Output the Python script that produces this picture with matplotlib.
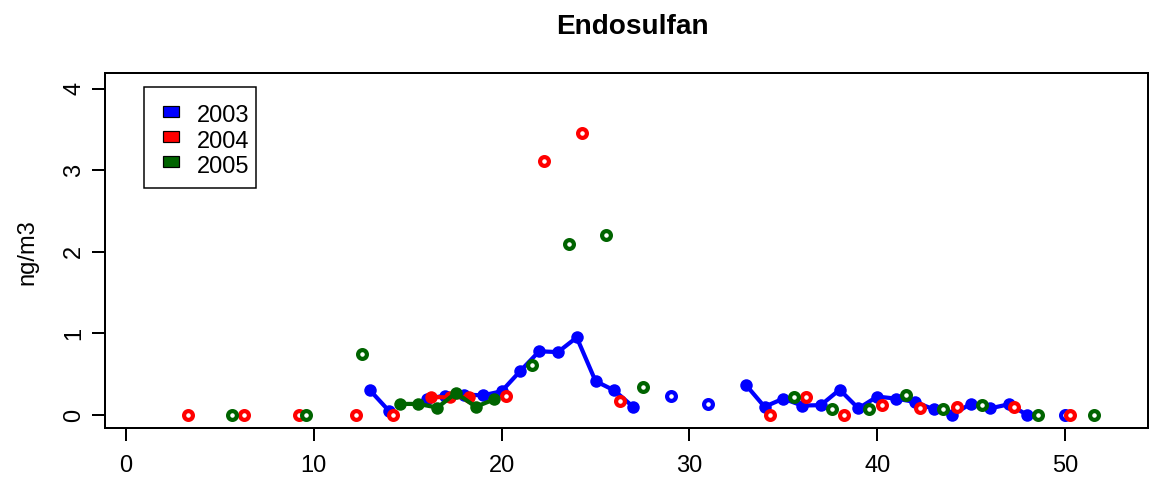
import matplotlib
matplotlib.use("Agg")
import matplotlib.pyplot as plt
from matplotlib.patches import Rectangle
import numpy as np

plt.rcParams['font.family'] = ['Liberation Sans', 'DejaVu Sans']

title = "Endosulfan"
ylabel = "ng/m3"
years = ["2003", "2004", "2005"]
colors = ["#0000FF", "#FF0000", "#006400"]

x2003 = [13, 14, 16, 17, 18, 19, 20, 21, 22, 23, 24, 25, 26, 27, 29, 31,
         33, 34, 35, 36, 37, 38, 39, 40, 41, 42, 43, 44, 45, 46, 47, 48, 50]
y2003 = [0.30, 0.05, 0.20, 0.235, 0.25, 0.24, 0.29, 0.54, 0.78, 0.77, 0.95, 0.415,
         0.30, 0.10, 0.235, 0.14, 0.37, 0.10, 0.20, 0.115, 0.12, 0.31, 0.08, 0.225,
         0.20, 0.16, 0.07, 0.0, 0.14, 0.08, 0.13, 0.0, 0.0]

x2004 = [3.30, 6.28, 9.23, 12.25, 14.23, 16.24, 17.25, 18.28, 20.23, 22.27, 24.30,
         26.30, 34.29, 36.20, 38.25, 40.27, 42.26, 44.23, 47.28, 50.27]
y2004 = [0.0, 0.0, 0.0, 0.0, 0.0, 0.22, 0.215, 0.22, 0.235, 3.11, 3.45, 0.175,
         0.0, 0.225, 0.0, 0.12, 0.085, 0.10, 0.10, 0.0]

x2005 = [5.63, 9.58, 12.57, 14.59, 15.57, 16.58, 17.57, 18.62, 19.60, 21.60, 23.60,
         25.54, 27.55, 35.57, 37.58, 39.58, 41.53, 43.50, 45.56, 48.54, 51.54]
y2005 = [0.0, 0.0, 0.75, 0.135, 0.135, 0.09, 0.27, 0.10, 0.19, 0.61, 2.09,
         2.20, 0.34, 0.225, 0.07, 0.07, 0.245, 0.07, 0.12, 0.0, 0.0]

xticks = [0, 10, 20, 30, 40, 50]
yticks = [0, 1, 2, 3, 4]

series = [(x2003, y2003), (x2004, y2004), (x2005, y2005)]

W, H = 1150, 482
fig = plt.figure(figsize=(W / 100, H / 100), dpi=100)
ax = fig.add_axes([105 / W, 1 - 428 / H, (1148 - 105) / W, (428 - 73) / H])

px = 72 / 100  # points per pixel


def runs(xs):
    groups = []
    cur = [0]
    for i in range(1, len(xs)):
        if xs[i] - xs[i - 1] < 1.5:
            cur.append(i)
        else:
            groups.append(cur)
            cur = [i]
    groups.append(cur)
    return groups


for (xs, ys), c in zip(series, colors):
    xs = np.array(xs)
    ys = np.array(ys)
    for g in runs(list(xs)):
        if len(g) > 1:
            ax.plot(xs[g], ys[g], color=c, lw=4.2 * px, marker='o',
                    ms=12.5 * px, mec=c, mfc=c, mew=0, solid_capstyle='round',
                    solid_joinstyle='round', zorder=3)
        else:
            ax.plot(xs[g], ys[g], linestyle='none', marker='o', ms=8.8 * px,
                    mfc='white', mec=c, mew=4.2 * px, zorder=3)

ax.set_xlim(-1.12, 54.42)
ax.set_ylim(-0.16, 4.19)
ax.set_xticks(xticks)
ax.set_yticks(yticks)
ax.set_xticklabels([str(v) for v in xticks])
ax.set_yticklabels([str(v) for v in yticks])
for s in ax.spines.values():
    s.set_linewidth(2 * px)
ax.tick_params(axis='both', length=13 * px, width=2 * px, labelsize=17,
               direction='out', color='black')
ax.tick_params(axis='x', pad=10)
ax.tick_params(axis='y', pad=5)
for lab in ax.get_yticklabels():
    lab.set_rotation(90)
    lab.set_va('center')
    lab.set_ha('right')

fig.text(27 / W, 1 - 252 / H, ylabel, rotation=90, ha='center', va='center',
         fontsize=17)
fig.text(632 / W, 1 - 34 / H, title, ha='center', va='baseline',
         fontsize=20.2, fontweight='bold')

# Legend drawn in figure pixel coordinates (R-style boxed legend)
def fx(p):
    return p / W


def fy(p):
    return 1 - p / H


fig.patches.append(Rectangle((fx(144.3), fy(187.7)), fx(255.7) - fx(144.3),
                             fy(86.7) - fy(187.7), transform=fig.transFigure,
                             facecolor='white', edgecolor='black',
                             linewidth=1.5 * px, zorder=5))
row_top = [106.0, 131.0, 156.0]
for i, (lab, c) in enumerate(zip(years, colors)):
    t = row_top[i]
    fig.patches.append(Rectangle((fx(162.7), fy(t + 11.3)), fx(179) - fx(162.7),
                                 fy(t) - fy(t + 11.3), transform=fig.transFigure,
                                 facecolor=c, edgecolor='black', linewidth=1.2 * px,
                                 zorder=6))
    fig.text(fx(196.7), fy(t + 16.5), lab, ha='left', va='baseline',
             fontsize=17, zorder=6)

fig.savefig("out.png", dpi=100)
